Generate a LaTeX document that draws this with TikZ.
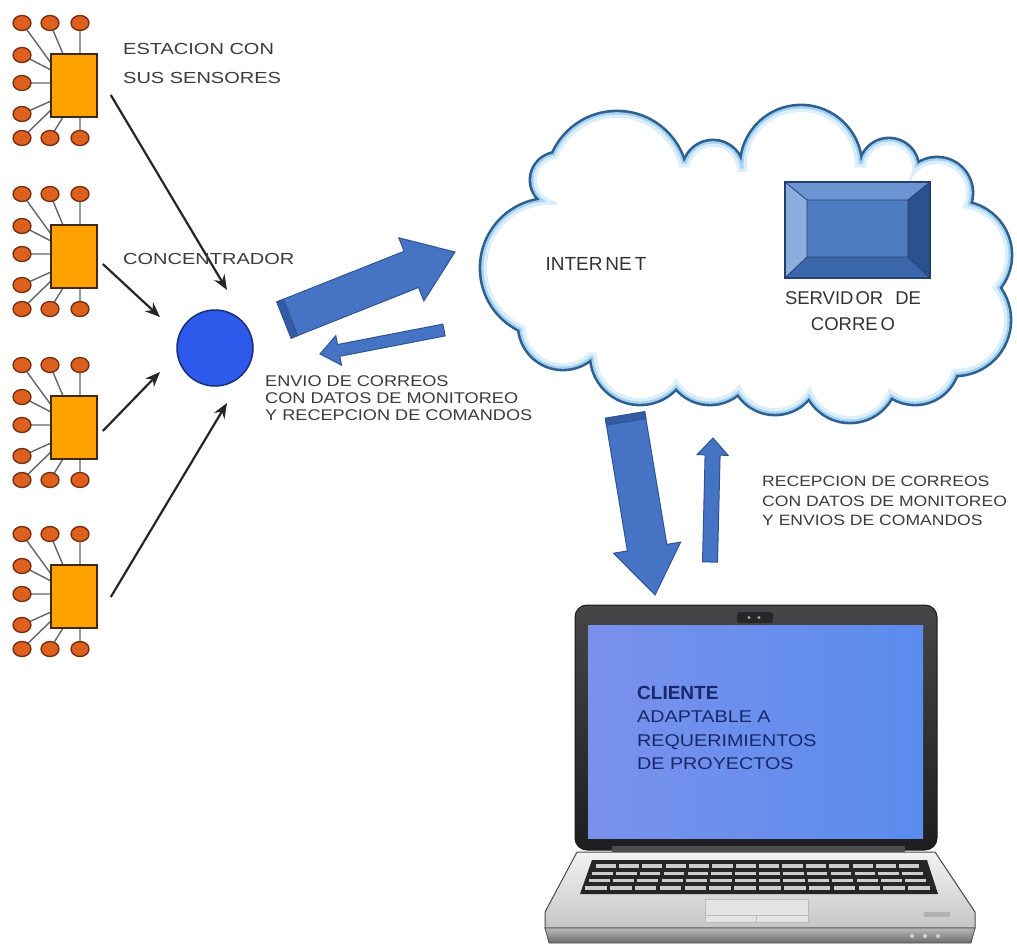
\documentclass[tikz,border=0pt]{standalone}
\usepackage{fontspec}
\setmainfont{Liberation Sans}
\newfontfamily\lblfont[FakeStretch=1.25]{Liberation Sans}
\newfontfamily\msgfont[FakeStretch=1.17]{Liberation Sans}
\newfontfamily\scrfont[FakeStretch=1.16]{Liberation Sans}
\usetikzlibrary{calc,arrows.meta}

\definecolor{padfill}{RGB}{222,96,30}
\definecolor{paddraw}{RGB}{110,45,15}
\definecolor{chipfill}{RGB}{255,162,0}
\definecolor{chipdraw}{RGB}{60,40,20}
\definecolor{wirecol}{RGB}{95,100,115}
\definecolor{hubfill}{RGB}{45,90,235}
\definecolor{hubdraw}{RGB}{25,45,120}
\definecolor{arrowfill}{RGB}{70,115,195}
\definecolor{arrowdraw}{RGB}{45,85,150}
\definecolor{arrowdark}{RGB}{52,92,165}
\definecolor{cloudline}{RGB}{45,95,145}
\definecolor{cloudglowA}{RGB}{165,210,241}
\definecolor{cloudglowB}{RGB}{218,238,252}
\definecolor{labeltext}{RGB}{60,60,60}
\definecolor{screentext}{RGB}{25,40,105}
\definecolor{srvface}{RGB}{78,124,192}
\definecolor{srvtop}{RGB}{108,148,210}
\definecolor{srvleft}{RGB}{138,173,222}
\definecolor{srvright}{RGB}{42,82,142}
\definecolor{srvbottom}{RGB}{58,102,170}
\definecolor{srvline}{RGB}{36,63,110}
\definecolor{scrA}{RGB}{122,145,236}
\definecolor{scrB}{RGB}{148,171,246}
\definecolor{scrC}{RGB}{90,140,238}
\definecolor{lidtop}{RGB}{70,70,72}
\definecolor{lidbot}{RGB}{30,30,32}
\definecolor{keycap}{RGB}{205,205,205}

% puffs of the cloud: x / y / radius (the last ones only fill its middle)
\def\cloudpuffs{550/268/70, 558/180/28, 617/182/71, 713/171/31, 801/166/61,
  889/168/30, 937/193/36, 958/255/54, 955/320/56, 563/325/45, 640/355/50,
  710/360/45, 775/370/45, 850/375/48, 915/360/45, 690/270/110, 850/265/105,
  600/300/60, 760/320/60, 745/215/50, 905/300/60, 850/215/50, 700/330/60,
  840/340/60}

% block arrow: [style] tail, tip, half shaft width, half head width, head length
\newcommand\drawblockarrow[6][]{%
  \coordinate (ba-h) at ($(#3)!#6!(#2)$);
  \path[blockarr,#1] ($(#2)!#4!90:(#3)$) -- ($(ba-h)!#4!-90:(#2)$)
    -- ($(ba-h)!#5!-90:(#2)$) -- (#3) -- ($(ba-h)!#5!90:(#2)$)
    -- ($(ba-h)!#4!90:(#2)$) -- ($(#2)!#4!-90:(#3)$) -- cycle;}
% darker band at the tail end of a block arrow
\newcommand\drawarrowtail[4]{%
  \coordinate (bt) at ($(#1)!#4!(#2)$);
  \path[fill=arrowdark, draw=arrowdraw, line width=1pt]
    ($(#1)!#3!90:(#2)$) -- ($(bt)!#3!-90:(#1)$) -- ($(bt)!#3!90:(#1)$)
    -- ($(#1)!#3!-90:(#2)$) -- cycle;}

% one sensor station: chip with its nine pads
\newcommand\sensorstation[2]{%
  \begin{scope}[shift={(0,#2)}]
    \draw[stationwire] (22,23) -- (51,63) (50,23) -- (63,54) (80,23) -- (80,54)
      (22,55) -- (51,70) (22,83) -- (51,83) (22,114) -- (51,101)
      (22,138) -- (51,110) (50,138) -- (63,117) (80,138) -- (80,117);
    \foreach \px/\py in {22/23,50/23,80/23,22/55,22/83,22/114,22/138,50/138,80/138}
      \draw[stationpad] (\px,\py) ellipse [x radius=9pt, y radius=7.5pt];
    \node[stationchip] (#1) at (74,85.5) {};
  \end{scope}}

\begin{document}
\begin{tikzpicture}[x=1pt,y=-1pt,
  stationchip/.style={draw=chipdraw, fill=chipfill, line width=1.6pt,
    minimum width=46pt, minimum height=63pt, inner sep=0pt},
  stationpad/.style={draw=paddraw, fill=padfill, line width=1.3pt},
  stationwire/.style={draw=wirecol, line width=1.4pt},
  hubnode/.style={circle, draw=hubdraw, fill=hubfill, line width=1.5pt,
    minimum size=76pt, inner sep=0pt},
  feedline/.style={draw=black!85, line width=2.2pt,
    -{Stealth[length=15pt,width=12pt]}},
  sidetext/.style={text=labeltext, inner sep=0pt, align=left, anchor=west},
  blockarr/.style={fill=arrowfill, draw=arrowdraw, line width=1pt, line join=miter}]

\useasboundingbox[fill=white] (0,0) rectangle (1017,943);

% ---------- sensor stations and concentrator ----------
\sensorstation{s1}{0}
\sensorstation{s2}{171}
\sensorstation{s3}{342}
\sensorstation{s4}{511}

\node[hubnode] (c) at (215,348) {};

\draw[feedline] ($(s1.east)+(13,9.5)$) -- ($(c.center)+(12,-58)$);
\draw[feedline] ($(s2.east)+(5,7.5)$) -- ($(c.center)+(-55,-31)$);
\draw[feedline] ($(s3.east)+(5,3.5)$) -- ($(c.center)+(-55,24)$);
\draw[feedline] ($(s4.east)+(13,0.5)$) -- ($(c.center)+(12,55)$);

\node[sidetext, font=\lblfont\fontsize{16}{29}\selectfont] (lblst) at (123,63)
  {ESTACION CON\\SUS SENSORES};
\node[sidetext, font=\lblfont\fontsize{16}{29}\selectfont] (lblhub) at (123,259)
  {CONCENTRADOR};

% ---------- cloud ----------
\foreach \cx/\cy/\cr in \cloudpuffs
  \fill[cloudline] (\cx,\cy) circle [radius={(\cr+1.4)*1pt}];
\foreach \cx/\cy/\cr in \cloudpuffs
  \fill[cloudglowA] (\cx,\cy) circle [radius={(\cr-1.2)*1pt}];
\foreach \cx/\cy/\cr in \cloudpuffs
  \fill[cloudglowB] (\cx,\cy) circle [radius={(\cr-3.5)*1pt}];
\foreach \cx/\cy/\cr in \cloudpuffs
  \fill[white] (\cx,\cy) circle [radius={(\cr-7)*1pt}];

\node[text=black!80, font=\fontsize{19}{23}\selectfont, inner sep=0pt] (cloud)
  at (596,264) {INTER\kern3pt NE\kern3pt T};

% mail server
\fill[srvtop] (785,182) -- (930,182) -- (908,200) -- (807,200) -- cycle;
\fill[srvleft] (785,182) -- (807,200) -- (807,257) -- (785,278) -- cycle;
\fill[srvright] (930,182) -- (930,278) -- (908,257) -- (908,200) -- cycle;
\fill[srvbottom] (785,278) -- (807,257) -- (908,257) -- (930,278) -- cycle;
\fill[srvface] (807,200) rectangle (908,257);
\draw[srvline, line width=0.8pt] (807,200) rectangle (908,257)
  (785,182) -- (807,200) (930,182) -- (908,200) (785,278) -- (807,257) (930,278) -- (908,257);
\draw[srvline, line width=1.6pt] (785,182) rectangle (930,278);
\node[text=black!80, font=\fontsize{18.5}{26}\selectfont, align=center, inner sep=0pt]
  (srvlbl) at (853,311) {SERVID\kern2pt OR\hspace{12pt}DE\\CORRE\kern3pt O};

% ---------- block arrows ----------
\coordinate (upTail) at (284,320);   \coordinate (upTip) at (455,252);
\coordinate (backTail) at (444,330); \coordinate (backTip) at (320,354);
\coordinate (downTail) at (625,415); \coordinate (downTip) at (655,595);
\coordinate (replyTail) at (710,562); \coordinate (replyTip) at (713,438);

\drawblockarrow{upTail}{upTip}{19.5pt}{34pt}{47pt}
\drawarrowtail{upTail}{upTip}{19.5pt}{7pt}
\drawblockarrow{backTail}{backTip}{6pt}{15pt}{19pt}
\drawblockarrow{downTail}{downTip}{20pt}{34pt}{48pt}
\drawarrowtail{downTail}{downTip}{20pt}{7pt}
\drawblockarrow{replyTail}{replyTip}{7.5pt}{15.5pt}{17pt}

\node[sidetext, font=\msgfont\fontsize{15.5}{17}\selectfont] (lblup) at (265,398)
  {ENVIO DE CORREOS\\CON DATOS DE MONITOREO\\Y RECEPCION DE COMANDOS};
\node[sidetext, font=\msgfont\fontsize{15}{19.5}\selectfont] (lbldown) at (762,501)
  {RECEPCION DE CORREOS\\CON DATOS DE MONITOREO\\Y ENVIOS DE COMANDOS};

% ---------- laptop ----------
\path[draw=black!90, line width=1pt, top color=lidtop, bottom color=lidbot,
  rounded corners=12pt] (575,605) rectangle (937,850);
\path[left color=scrA, middle color=scrB, right color=scrC] (588,625) rectangle (923,838);
\fill[black!85, rounded corners=3pt] (737,612) rectangle (773,623);
\fill[gray!70] (749,617.5) circle [radius=1.6pt] (759,617.5) circle [radius=1.6pt];
\fill[black!70] (612,846) rectangle (905,853);

\path[draw=gray!60!black, line width=1pt, top color=gray!10, bottom color=gray!45]
  (577,852) -- (935,852) -- (975,912) -- (975,928) -- (545,928) -- (545,912) -- cycle;
\path[draw=gray!60!black, line width=0.8pt, top color=gray!55, bottom color=gray!85!black]
  (545,928) -- (975,928) -- (971,943) -- (549,943) -- cycle;

\fill[black!85] (592,860) -- (927,860) -- (938,894) -- (580,894) -- cycle;
\foreach \r in {0,...,3}{
  \pgfmathsetmacro\yy{866+7.3*\r}
  \pgfmathsetmacro\xl{594-3.5*\r}
  \pgfmathsetmacro\xr{921+3.5*\r}
  \pgfmathsetmacro\sw{(\xr-\xl)/14}
  \foreach \k in {0,...,13}
    \fill[keycap] ({\xl+\k*\sw+1.6},{\yy-1.7}) rectangle ({\xl+(\k+1)*\sw-1.6},{\yy+1.7});
}
\path[draw=gray!55, fill=gray!22] (705,899) rectangle (808,922);
\draw[gray!55] (705,915) -- (808,915) (756.5,915) -- (756.5,922);
\fill[gray!60] (924,912) rectangle (950,917);
\foreach \lx in {912,925,938} \fill[gray!35] (\lx,936) circle [radius=2pt];

\node[anchor=west, align=left, inner sep=0pt, text=screentext,
  font=\scrfont\fontsize{17}{23.6}\selectfont] (client) at (637,728)
  {{\rmfamily\bfseries\fontsize{19}{23.6}\selectfont CLIENTE}\\ADAPTABLE A\\REQUERIMIENTOS\\DE PROYECTOS};

\end{tikzpicture}
\end{document}
